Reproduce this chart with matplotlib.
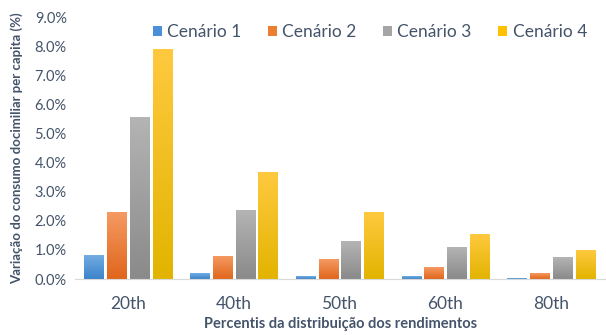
import matplotlib.pyplot as plt
import numpy as np
from matplotlib.colors import LinearSegmentedColormap
from matplotlib.patches import Patch
from matplotlib.ticker import FuncFormatter

plt.rcParams['font.family'] = ['Lato', 'DejaVu Sans']

# data (% variation)
categories = ['20th', '40th', '50th', '60th', '80th']
series_names = ['Cenário 1', 'Cenário 2', 'Cenário 3', 'Cenário 4']
cenario1 = [0.82, 0.20, 0.10, 0.08, 0.02]
cenario2 = [2.29, 0.78, 0.66, 0.40, 0.20]
cenario3 = [5.57, 2.35, 1.30, 1.08, 0.73]
cenario4 = [7.88, 3.65, 2.28, 1.52, 0.99]
values = [cenario1, cenario2, cenario3, cenario4]

# gradient colours (top, bottom) and legend colour
grad = [('#72ADE3', '#3C83C9'), ('#F59A62', '#E0661C'),
        ('#B4B4B4', '#8A8A8A'), ('#FFC93F', '#E2B400')]
legend_cols = ['#4A90D9', '#ED7D31', '#A5A5A5', '#FFC000']
text_col = '#44546A'

fig, ax = plt.subplots(figsize=(6.06, 3.35), dpi=100)
fig.subplots_adjust(left=0.124, right=1.0, top=0.948, bottom=0.167)

x = np.arange(len(categories))
width = 0.18
step = 0.215
offsets = (np.arange(4) - 1.5) * step

grad_img = np.linspace(1, 0, 100).reshape(-1, 1)
for i, vals in enumerate(values):
    cmap = LinearSegmentedColormap.from_list('g%d' % i, [grad[i][1], grad[i][0]])
    bars = ax.bar(x + offsets[i], vals, width, facecolor='none',
                  edgecolor='none', linewidth=0, zorder=3)
    for b in bars:
        x0 = b.get_x()
        h = b.get_height()
        ax.imshow(grad_img, cmap=cmap, extent=(x0, x0 + width, 0, h),
                  aspect='auto', zorder=2, vmin=0, vmax=1,
                  interpolation='bilinear')

ax.set_xlim(-0.5, 4.52)
ax.set_ylim(0, 9.0)
ax.set_yticks(np.arange(0, 9.01, 1.0))
ax.yaxis.set_major_formatter(FuncFormatter(lambda v, p: '%.1f%%' % v))
ax.set_xticks(x)
ax.set_xticklabels(categories)

for s in ['top', 'right', 'left']:
    ax.spines[s].set_visible(False)
ax.spines['bottom'].set_color('#D9D9D9')
ax.spines['bottom'].set_zorder(4)
ax.tick_params(length=0, colors=text_col, labelsize=10.5)
ax.tick_params(axis='x', labelsize=12.5, pad=12)
ax.tick_params(axis='y', pad=6)

ax.set_ylabel('Variação do consumo docimiliar per capita (%)', fontsize=9.5,
              fontweight='bold', color=text_col, labelpad=8)
ax.set_xlabel('Percentis da distribuição dos rendimentos', fontsize=10.5,
              fontweight='bold', color=text_col, labelpad=4)

handles = [Patch(facecolor=c, edgecolor='none') for c in legend_cols]
leg = ax.legend(handles, series_names, loc='upper center', ncol=4,
                bbox_to_anchor=(0.555, 1.035), frameon=False, fontsize=12.5,
                handlelength=0.55, handleheight=0.55, handletextpad=0.3,
                columnspacing=1.5)
for t in leg.get_texts():
    t.set_color(text_col)

fig.savefig('out.png', dpi=100)
